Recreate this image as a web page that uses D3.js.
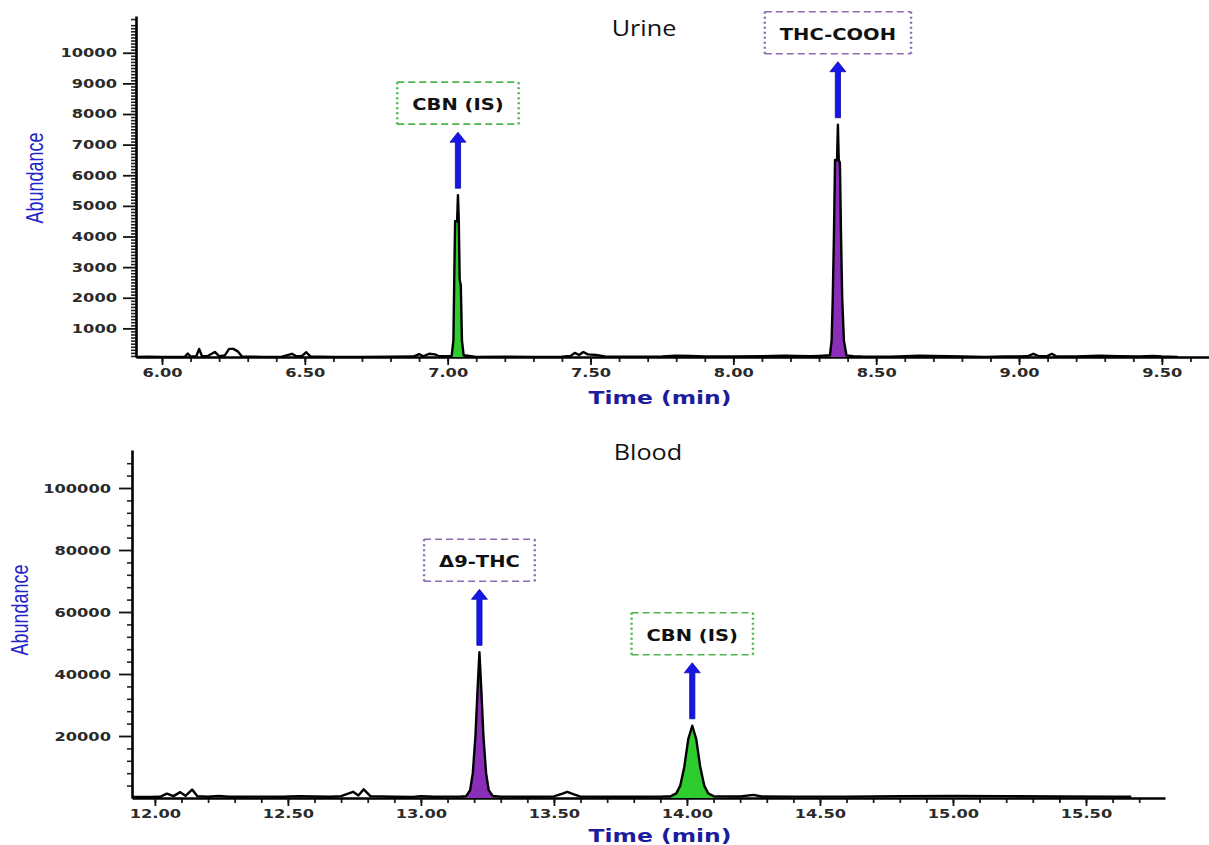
<!DOCTYPE html>
<html>
<head>
<meta charset="utf-8">
<script src="https://cdn.jsdelivr.net/npm/d3@7"></script>
<style>
  body { margin: 0; background: #fff; }
  svg { display: block; }
</style>
</head>
<body>
<svg id="chart" width="1209" height="845"></svg>
<script>
// ---- data ----

// Urine: time (min) / abundance
var urineTime = [
  5.909, 5.95, 6.00, 6.05, 6.08, 6.09, 6.10, 6.12, 6.13, 6.14, 6.16, 6.185, 6.20, 6.22,
  6.235, 6.25, 6.265, 6.28, 6.35, 6.42, 6.455, 6.47, 6.49, 6.505, 6.52, 6.60, 6.70, 6.80,
  6.88, 6.90, 6.915, 6.935, 6.955, 6.97, 7.000, 7.014, 7.020, 7.023, 7.026, 7.033, 7.036,
  7.039, 7.042, 7.046, 7.050, 7.056, 7.10, 7.20, 7.30, 7.40, 7.43, 7.445, 7.46,
  7.475, 7.49, 7.52, 7.55, 7.65, 7.75, 7.80, 7.85, 7.90, 8.00, 8.10, 8.18, 8.22, 8.27,
  8.30, 8.338, 8.344, 8.348, 8.352, 8.356, 8.363, 8.366, 8.369, 8.373, 8.377, 8.381, 8.387,
  8.396, 8.42, 8.45, 8.55, 8.65, 8.70, 8.80, 8.88, 8.95, 9.03, 9.05, 9.07, 9.10, 9.115,
  9.13, 9.20, 9.28, 9.35, 9.42, 9.47, 9.50, 9.555
];
var urineAbundance = [
  70, 75, 70, 65, 70, 180, 80, 90, 330, 90, 100, 230, 90, 120,
  330, 330, 250, 80, 70, 75, 170, 90, 100, 220, 80, 70, 70, 75,
  80, 160, 90, 170, 150, 90, 90, 100, 600, 2600, 4500, 4500, 5350,
  4500, 2600, 2400, 600, 120, 70, 75, 70, 75, 100, 200, 130,
  230, 150, 130, 80, 75, 80, 110, 100, 85, 80, 90, 110, 100, 90,
  100, 120, 600, 2000, 4000, 6500, 6500, 7650, 6500, 6400, 4000, 2000, 600,
  120, 90, 80, 75, 110, 100, 80, 70, 80, 90, 170, 90, 100, 170,
  90, 80, 110, 90, 80, 100, 85, 70
];
var urineXTicks = [6.0, 6.5, 7.0, 7.5, 8.0, 8.5, 9.0, 9.5];
var urineYTicks = [1000, 2000, 3000, 4000, 5000, 6000, 7000, 8000, 9000, 10000];
var urinePeakLabels = ['CBN (IS)', 'THC-COOH'];
var urinePeakKinds = ['is', 'analyte'];
var urinePeakWindows = [[7.010, 7.060], [8.335, 8.400]];

// Blood: time (min) / abundance
var bloodTime = [
  11.914, 11.98, 12.02, 12.045, 12.07, 12.095, 12.115, 12.14, 12.16, 12.20, 12.24, 12.28,
  12.40, 12.48, 12.54, 12.60, 12.66, 12.70, 12.745, 12.765, 12.785, 12.81, 12.90, 12.97,
  13.00, 13.05, 13.10, 13.15, 13.17, 13.185, 13.195, 13.205, 13.213, 13.22, 13.227, 13.235,
  13.245, 13.255, 13.27, 13.30, 13.40, 13.50, 13.535, 13.55, 13.575, 13.60, 13.70, 13.80,
  13.90, 13.94, 13.96, 13.975, 13.99, 14.005, 14.02, 14.035, 14.05, 14.065, 14.08, 14.10,
  14.20, 14.25, 14.28, 14.40, 14.60, 14.80, 15.00, 15.20, 15.40, 15.60, 15.67
];
var bloodAbundance = [
  300, 350, 400, 1400, 600, 1900, 700, 2700, 600, 400, 700, 400,
  450, 400, 600, 500, 400, 600, 2000, 800, 2800, 600, 400, 350,
  600, 400, 450, 500, 600, 2500, 8000, 20000, 35000, 47000, 35000, 20000,
  8000, 2500, 700, 450, 400, 500, 1500, 2000, 1200, 450, 400, 400,
  450, 600, 1500, 4000, 10000, 19000, 23300, 19000, 10000, 4000, 1500, 600,
  500, 1000, 500, 450, 450, 600, 700, 600, 500, 450, 400
];
var bloodXTicks = [12.0, 12.5, 13.0, 13.5, 14.0, 14.5, 15.0, 15.5];
var bloodYTicks = [20000, 40000, 60000, 80000, 100000];
var bloodPeakLabels = ['\u03949-THC', 'CBN (IS)'];
var bloodPeakKinds = ['analyte', 'is'];
var bloodPeakWindows = [[13.170, 13.270], [13.940, 14.100]];

// ---- styles ----
var STRETCH = 1.3;
var fills = { is: '#2fcc2f', analyte: '#8a2db8' };
var boxColors = { is: '#4db34d', analyte: '#8d6bb0' };

var svg = d3.select('#chart');

function stretch (sel, k) {
  sel.each(function () {
    var len = this.getComputedTextLength();
    d3.select(this).attr('textLength', len * k).attr('lengthAdjust', 'spacingAndGlyphs');
  });
}

function arrowPath (cx, yTop, yBottom) {
  var head = 10, hw = 8, sw = 2.6;
  return 'M' + (cx - sw) + ',' + yBottom +
    'L' + (cx - sw) + ',' + (yTop + head) +
    'L' + (cx - hw) + ',' + (yTop + head) +
    'L' + cx + ',' + yTop +
    'L' + (cx + hw) + ',' + (yTop + head) +
    'L' + (cx + sw) + ',' + (yTop + head) +
    'L' + (cx + sw) + ',' + yBottom + 'Z';
}

function drawPanel (p) {
  var g = svg.append('g');
  var data = p.time.map(function (t, i) { return { t: t, v: p.abundance[i] }; });

  var x = d3.scaleLinear().domain(p.xDomain).range(p.xRange);
  var y = d3.scaleLinear().domain(p.yDomain).range(p.yRange);
  var x0 = p.xRange[0];
  var base = p.yRange[0];

  // minor ticks first, majors drawn over them
  var yMinor = d3.axisLeft(y).tickValues(p.yMinor).tickSize(5).tickFormat('').tickSizeOuter(0);
  var xMinor = d3.axisBottom(x).tickValues(p.xMinor).tickSize(5).tickFormat('').tickSizeOuter(0);

  g.append('g').attr('transform', 'translate(' + x0 + ',0)').call(yMinor)
    .call(function (s) { s.select('.domain').remove(); s.selectAll('line').attr('stroke-width', 1.6).attr('stroke', '#222'); });
  g.append('g').attr('transform', 'translate(0,' + base + ')').call(xMinor)
    .call(function (s) { s.select('.domain').remove(); s.selectAll('line').attr('stroke-width', 1.8).attr('stroke', '#222'); });

  var yAxis = d3.axisLeft(y).tickValues(p.yTicks).tickSize(13).tickPadding(p.yPad)
    .tickFormat(d3.format('d')).tickSizeOuter(0);
  var xAxis = d3.axisBottom(x).tickValues(p.xTicks).tickSize(8).tickPadding(3)
    .tickFormat(d3.format('.2f')).tickSizeOuter(0);

  var ya = g.append('g').attr('transform', 'translate(' + x0 + ',0)').call(yAxis);
  var xa = g.append('g').attr('transform', 'translate(0,' + base + ')').call(xAxis);

  [ya, xa].forEach(function (a) {
    a.select('.domain').attr('stroke', '#000').attr('stroke-width', 2.6);
    a.selectAll('.tick line').attr('stroke', '#111').attr('stroke-width', 1.8);
    a.selectAll('.tick text')
      .attr('fill', '#2a2a2a')
      .attr('font-family', 'DejaVu Sans, sans-serif')
      .attr('font-weight', 'bold')
      .attr('font-size', 12.5)
      .call(stretch, STRETCH);
  });

  // filled peaks under the trace
  var area = d3.area().x(function (d) { return x(d.t); }).y0(base).y1(function (d) { return y(d.v); });
  p.peakWindows.forEach(function (w, i) {
    var seg = data.filter(function (d) { return d.t >= w[0] && d.t <= w[1]; });
    g.append('path').datum(seg).attr('d', area).attr('fill', fills[p.peakKinds[i]]);
  });

  var line = d3.line().x(function (d) { return x(d.t); }).y(function (d) { return y(d.v); });
  g.append('path').datum(data).attr('d', line)
    .attr('fill', 'none').attr('stroke', '#000').attr('stroke-width', 2.4)
    .attr('stroke-linejoin', 'round');

  // arrows + dashed label boxes
  p.peakWindows.forEach(function (w, i) {
    var seg = data.filter(function (d) { return d.t >= w[0] && d.t <= w[1]; });
    var top = seg.reduce(function (a, b) { return b.v > a.v ? b : a; });
    var cx = x(top.t);
    var tipY = y(top.v);
    var arrowBottom = tipY - 7;
    var arrowTop = arrowBottom - 56;
    var boxBottom = arrowTop - 8;
    var boxTop = boxBottom - 42;
    var color = boxColors[p.peakKinds[i]];

    g.append('path').attr('d', arrowPath(cx, arrowTop, arrowBottom))
      .attr('fill', '#1616ea').attr('stroke', '#0c0c9c').attr('stroke-width', 0.8);

    var label = g.append('text')
      .attr('x', cx).attr('y', boxBottom - 14)
      .attr('text-anchor', 'middle')
      .attr('font-family', 'DejaVu Sans, sans-serif')
      .attr('font-weight', 'bold')
      .attr('font-size', 15)
      .attr('fill', '#111')
      .text(p.peakLabels[i])
      .call(stretch, STRETCH);

    var half = label.node().textLength.baseVal.value / 2 + 15;
    var bx0 = cx - half, bx1 = cx + half;
    [[bx0, boxTop, bx1, boxTop], [bx0, boxBottom, bx1, boxBottom]].forEach(function (l) {
      g.append('line').attr('x1', l[0]).attr('y1', l[1]).attr('x2', l[2]).attr('y2', l[3])
        .attr('stroke', color).attr('stroke-width', 1.6).attr('stroke-dasharray', '7,4');
    });
    [[bx0, boxTop, bx0, boxBottom], [bx1, boxTop, bx1, boxBottom]].forEach(function (l) {
      g.append('line').attr('x1', l[0]).attr('y1', l[1]).attr('x2', l[2]).attr('y2', l[3])
        .attr('stroke', color).attr('stroke-width', 2.4).attr('stroke-dasharray', '2,3');
    });
  });

  // titles
  g.append('text')
    .attr('x', p.titleX).attr('y', p.titleY)
    .attr('text-anchor', 'middle')
    .attr('font-family', 'Open Sans, sans-serif')
    .attr('font-size', 21)
    .attr('fill', '#111')
    .text(p.title)
    .call(stretch, 1.2);

  g.append('text')
    .attr('x', 660).attr('y', p.xLabelY)
    .attr('text-anchor', 'middle')
    .attr('font-family', 'DejaVu Sans, sans-serif')
    .attr('font-weight', 'bold')
    .attr('font-size', 18)
    .attr('fill', '#1c1c9c')
    .text('Time (min)')
    .call(stretch, STRETCH);

  g.append('text')
    .attr('transform', 'translate(' + p.yLabelX + ',' + p.yLabelY + ') rotate(-90) scale(1,' + STRETCH + ')')
    .attr('text-anchor', 'middle')
    .attr('font-family', 'Liberation Sans, sans-serif')
    .attr('font-size', 18)
    .attr('fill', '#2323c8')
    .text('Abundance');
}

drawPanel({
  time: urineTime,
  abundance: urineAbundance,
  xTicks: urineXTicks,
  yTicks: urineYTicks,
  xMinor: d3.range(60, 97).map(function (d) { return d / 10; }),
  yMinor: d3.range(100, 11200, 100).filter(function (d) { return d % 1000 !== 0; }),
  peakLabels: urinePeakLabels,
  peakKinds: urinePeakKinds,
  peakWindows: urinePeakWindows,
  xDomain: [5.909, 9.665],
  xRange: [136, 1209],
  yDomain: [65, 11200],
  yRange: [357, 16],
  yPad: 6,
  title: 'Urine',
  titleX: 644,
  titleY: 36,
  xLabelY: 404,
  yLabelX: 43,
  yLabelY: 178
});

drawPanel({
  time: bloodTime,
  abundance: bloodAbundance,
  xTicks: bloodXTicks,
  yTicks: bloodYTicks,
  xMinor: d3.range(120, 158).map(function (d) { return d / 10; }),
  yMinor: d3.range(4000, 112000, 4000).filter(function (d) { return d % 20000 !== 0; }),
  peakLabels: bloodPeakLabels,
  peakKinds: bloodPeakKinds,
  peakWindows: bloodPeakWindows,
  xDomain: [11.914, 15.797],
  xRange: [132, 1165],
  yDomain: [0, 112260],
  yRange: [798, 450],
  yPad: 8,
  title: 'Blood',
  titleX: 648,
  titleY: 460,
  xLabelY: 842,
  yLabelX: 28,
  yLabelY: 610
});
</script>
</body>
</html>
